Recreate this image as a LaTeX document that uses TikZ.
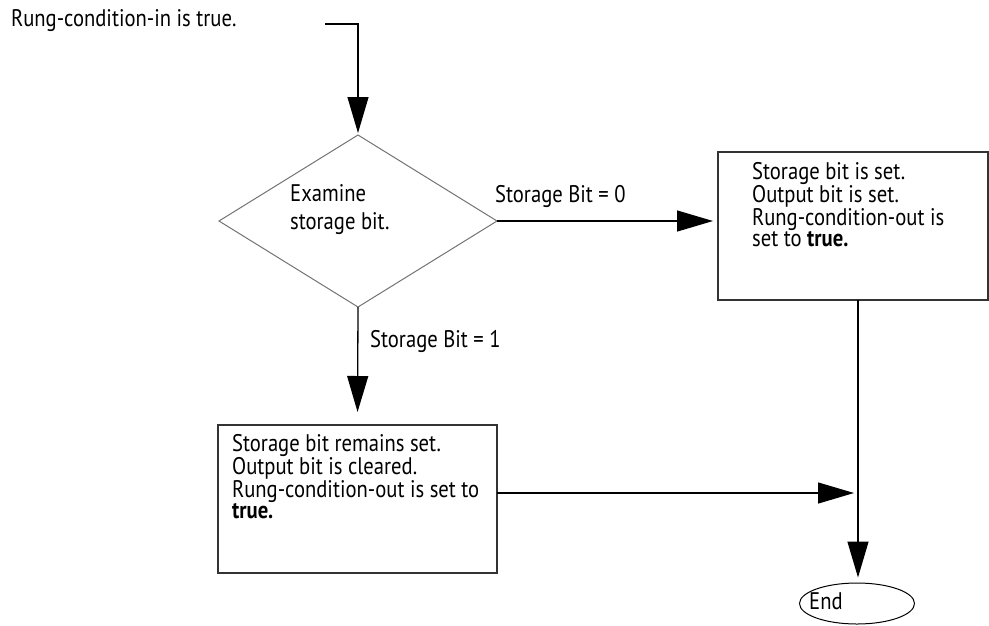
\documentclass[tikz,border=0pt]{standalone}
\usepackage{fontspec}
\setmainfont{PT Sans}[FakeStretch=0.86]
\usetikzlibrary{shapes.geometric,arrows.meta}

\begin{document}
\begin{tikzpicture}[x=1pt,y=-1pt,
  txt/.style={anchor=north west,inner sep=0pt,align=left,font=\fontsize{24}{28}\selectfont},
  boxtxt/.style={txt,font=\fontsize{24}{20.5}\selectfont},
  box/.style={draw=black!80,line width=1.6pt,inner sep=0pt,outer sep=0pt},
  arr/.style={line width=1.3pt,-{Triangle[length=36pt,width=21pt]}}]
\useasboundingbox (0,0) rectangle (989,625);
\node[txt] (t) at (11,9.5) {Rung-condition-in is true.};
\coordinate (in) at (325,24);
\node[diamond,draw=black!55,line width=1pt,minimum width=278pt,minimum height=172pt,inner sep=0pt,outer sep=0pt] (dia) at (358,221) {};
\node[txt] (diat) at (290,184.5) {Examine\\storage bit.};
\node[box,minimum width=270pt,minimum height=148pt] (b0) at (853,226) {};
\node[boxtxt] (b0t) at (752,162.5) {Storage bit is set.\\Output bit is set.\\Rung-condition-out is\\set to \textbf{true.}};
\node[box,minimum width=279pt,minimum height=148pt] (b1) at (357.5,499) {};
\node[boxtxt] (b1t) at (232,434.5) {Storage bit remains set.\\Output bit is cleared.\\Rung-condition-out is set to\\\textbf{true.}};
\node[draw,ellipse,line width=1pt,minimum width=115pt,minimum height=41pt,inner sep=0pt] (end) at (857,603.5) {};
\node[txt] (endt) at (809,592.5) {End};
\node[txt] (l0) at (495,185) {Storage Bit = 0};
\node[txt] (l1) at (370,330) {Storage Bit = 1};
\coordinate (j) at ([xshift=5pt]b0.south);
\coordinate (k) at ([yshift=6pt]b1.east);
\draw[arr,shorten >=2pt] (in) -| (dia.north);
\draw[arr,shorten >=5pt] (dia.east) -- (dia.east -| b0.west);
\draw[arr,shorten >=13pt] (dia.south) -- (b1.north);
\draw[arr,shorten >=4pt] (k) -- (k -| j);
\draw[arr,shorten >=5pt] (j) -- (j |- end.north);
\end{tikzpicture}
\end{document}
